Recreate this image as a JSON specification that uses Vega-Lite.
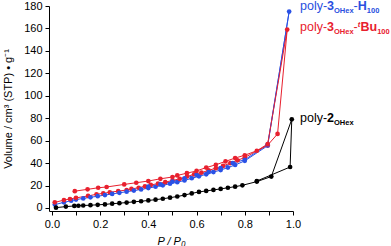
{
  "$schema": "https://vega.github.io/schema/vega-lite/v6.json",
  "width": 244,
  "height": 205,
  "autosize": {"type": "none"},
  "padding": {"left": 49, "top": 6, "right": 98, "bottom": 35},
  "background": "white",
  "config": {
    "view": {"stroke": null},
    "font": "Liberation Sans",
    "axis": {"grid": false, "domainColor": "#000", "tickColor": "#000", "labelColor": "#000", "titleColor": "#000", "labelFont": "Liberation Sans", "titleFont": "Liberation Sans", "labelFontSize": 11, "titleFontSize": 11, "titleFontWeight": "normal", "tickSize": 4, "domainWidth": 1, "tickWidth": 1, "labelOverlap": false, "labelBound": false}
  },
  "datasets": {
    "iso": [
      {"s": "H", "o": 1, "p": 0.012, "v": 3}, {"s": "H", "o": 2, "p": 0.05, "v": 5}, {"s": "H", "o": 3, "p": 0.08, "v": 6.5}, {"s": "H", "o": 4, "p": 0.1, "v": 7.5}, {"s": "H", "o": 5, "p": 0.13, "v": 8.5}, {"s": "H", "o": 6, "p": 0.16, "v": 9.5}, {"s": "H", "o": 7, "p": 0.19, "v": 10.5}, {"s": "H", "o": 8, "p": 0.22, "v": 11.5}, {"s": "H", "o": 9, "p": 0.25, "v": 12.5}, {"s": "H", "o": 10, "p": 0.28, "v": 13.5}, {"s": "H", "o": 11, "p": 0.31, "v": 14.5}, {"s": "H", "o": 12, "p": 0.34, "v": 15.5}, {"s": "H", "o": 13, "p": 0.37, "v": 16.5}, {"s": "H", "o": 14, "p": 0.4, "v": 17.7}, {"s": "H", "o": 15, "p": 0.43, "v": 18.9}, {"s": "H", "o": 16, "p": 0.46, "v": 20.2}, {"s": "H", "o": 17, "p": 0.49, "v": 21.6}, {"s": "H", "o": 18, "p": 0.52, "v": 23}, {"s": "H", "o": 19, "p": 0.55, "v": 24.5}, {"s": "H", "o": 20, "p": 0.58, "v": 26.5}, {"s": "H", "o": 21, "p": 0.61, "v": 28.2}, {"s": "H", "o": 22, "p": 0.64, "v": 30}, {"s": "H", "o": 23, "p": 0.67, "v": 32}, {"s": "H", "o": 24, "p": 0.7, "v": 33.8}, {"s": "H", "o": 25, "p": 0.73, "v": 36}, {"s": "H", "o": 26, "p": 0.76, "v": 38.3}, {"s": "H", "o": 27, "p": 0.8, "v": 42}, {"s": "H", "o": 28, "p": 0.895, "v": 55.5}, {"s": "H", "o": 29, "p": 0.984, "v": 175}, {"s": "H", "o": 30, "p": 0.895, "v": 56.5}, {"s": "H", "o": 31, "p": 0.8, "v": 43}, {"s": "H", "o": 32, "p": 0.75, "v": 40}, {"s": "H", "o": 33, "p": 0.7, "v": 35.5}, {"s": "H", "o": 34, "p": 0.65, "v": 32}, {"s": "H", "o": 35, "p": 0.6, "v": 29.5}, {"s": "H", "o": 36, "p": 0.55, "v": 26.5}, {"s": "H", "o": 37, "p": 0.5, "v": 23.5}, {"s": "H", "o": 38, "p": 0.45, "v": 21}, {"s": "H", "o": 39, "p": 0.4, "v": 19},
      {"s": "tBu", "o": 1, "p": 0.012, "v": 5}, {"s": "tBu", "o": 2, "p": 0.05, "v": 7}, {"s": "tBu", "o": 3, "p": 0.075, "v": 8}, {"s": "tBu", "o": 4, "p": 0.1, "v": 9}, {"s": "tBu", "o": 5, "p": 0.15, "v": 10.7}, {"s": "tBu", "o": 6, "p": 0.185, "v": 12.2}, {"s": "tBu", "o": 7, "p": 0.213, "v": 13}, {"s": "tBu", "o": 8, "p": 0.24, "v": 14}, {"s": "tBu", "o": 9, "p": 0.275, "v": 15}, {"s": "tBu", "o": 10, "p": 0.31, "v": 16}, {"s": "tBu", "o": 11, "p": 0.33, "v": 17}, {"s": "tBu", "o": 12, "p": 0.36, "v": 18}, {"s": "tBu", "o": 13, "p": 0.386, "v": 19.3}, {"s": "tBu", "o": 14, "p": 0.41, "v": 20.5}, {"s": "tBu", "o": 15, "p": 0.44, "v": 21.7}, {"s": "tBu", "o": 16, "p": 0.47, "v": 23}, {"s": "tBu", "o": 17, "p": 0.5, "v": 24.5}, {"s": "tBu", "o": 18, "p": 0.53, "v": 26}, {"s": "tBu", "o": 19, "p": 0.56, "v": 28}, {"s": "tBu", "o": 20, "p": 0.59, "v": 30}, {"s": "tBu", "o": 21, "p": 0.62, "v": 31.5}, {"s": "tBu", "o": 22, "p": 0.65, "v": 33.5}, {"s": "tBu", "o": 23, "p": 0.68, "v": 35.5}, {"s": "tBu", "o": 24, "p": 0.71, "v": 37.5}, {"s": "tBu", "o": 25, "p": 0.74, "v": 40}, {"s": "tBu", "o": 26, "p": 0.77, "v": 42.5}, {"s": "tBu", "o": 27, "p": 0.8, "v": 45}, {"s": "tBu", "o": 28, "p": 0.895, "v": 56}, {"s": "tBu", "o": 29, "p": 0.936, "v": 66}, {"s": "tBu", "o": 30, "p": 0.976, "v": 159}, {"s": "tBu", "o": 31, "p": 0.895, "v": 57}, {"s": "tBu", "o": 32, "p": 0.85, "v": 51}, {"s": "tBu", "o": 33, "p": 0.8, "v": 47}, {"s": "tBu", "o": 34, "p": 0.76, "v": 44.5}, {"s": "tBu", "o": 35, "p": 0.72, "v": 41.5}, {"s": "tBu", "o": 36, "p": 0.68, "v": 38.5}, {"s": "tBu", "o": 37, "p": 0.64, "v": 36}, {"s": "tBu", "o": 38, "p": 0.6, "v": 33}, {"s": "tBu", "o": 39, "p": 0.56, "v": 31}, {"s": "tBu", "o": 40, "p": 0.52, "v": 29}, {"s": "tBu", "o": 41, "p": 0.5, "v": 27.6}, {"s": "tBu", "o": 42, "p": 0.45, "v": 26}, {"s": "tBu", "o": 43, "p": 0.4, "v": 24}, {"s": "tBu", "o": 44, "p": 0.35, "v": 22.5}, {"s": "tBu", "o": 45, "p": 0.3, "v": 21}, {"s": "tBu", "o": 46, "p": 0.227, "v": 18.7}, {"s": "tBu", "o": 47, "p": 0.192, "v": 18}, {"s": "tBu", "o": 48, "p": 0.148, "v": 16.6}, {"s": "tBu", "o": 49, "p": 0.095, "v": 15},
      {"s": "two", "o": 1, "p": 0.017, "v": 0.3}, {"s": "two", "o": 2, "p": 0.058, "v": 1.2}, {"s": "two", "o": 3, "p": 0.093, "v": 1.8}, {"s": "two", "o": 4, "p": 0.11, "v": 2}, {"s": "two", "o": 5, "p": 0.13, "v": 2.2}, {"s": "two", "o": 6, "p": 0.16, "v": 2.5}, {"s": "two", "o": 7, "p": 0.19, "v": 2.8}, {"s": "two", "o": 8, "p": 0.22, "v": 3.2}, {"s": "two", "o": 9, "p": 0.25, "v": 3.8}, {"s": "two", "o": 10, "p": 0.28, "v": 4.3}, {"s": "two", "o": 11, "p": 0.31, "v": 4.8}, {"s": "two", "o": 12, "p": 0.34, "v": 5.5}, {"s": "two", "o": 13, "p": 0.37, "v": 6}, {"s": "two", "o": 14, "p": 0.4, "v": 6.7}, {"s": "two", "o": 15, "p": 0.43, "v": 7.4}, {"s": "two", "o": 16, "p": 0.46, "v": 8.2}, {"s": "two", "o": 17, "p": 0.49, "v": 9.2}, {"s": "two", "o": 18, "p": 0.52, "v": 10.2}, {"s": "two", "o": 19, "p": 0.55, "v": 11.5}, {"s": "two", "o": 20, "p": 0.58, "v": 13}, {"s": "two", "o": 21, "p": 0.61, "v": 14.3}, {"s": "two", "o": 22, "p": 0.64, "v": 15.2}, {"s": "two", "o": 23, "p": 0.67, "v": 16.1}, {"s": "two", "o": 24, "p": 0.7, "v": 17}, {"s": "two", "o": 25, "p": 0.73, "v": 18}, {"s": "two", "o": 26, "p": 0.76, "v": 19}, {"s": "two", "o": 27, "p": 0.79, "v": 20.2}, {"s": "two", "o": 28, "p": 0.85, "v": 23.5}, {"s": "two", "o": 29, "p": 0.91, "v": 28}, {"s": "two", "o": 30, "p": 0.995, "v": 79}, {"s": "two", "o": 31, "p": 0.988, "v": 36.5}, {"s": "two", "o": 32, "p": 0.85, "v": 24}
    ],
    "lab": [
      {"s": "H", "p": 1.029, "v": 176.5},
      {"s": "tBu", "p": 1.029, "v": 157.8},
      {"s": "two", "p": 1.029, "v": 76.6}
    ]
  },
  "encoding": {
    "x": {"field": "p", "type": "quantitative", "scale": {"domain": [-0.012, 1.0], "nice": false, "zero": false},
      "axis": {"values": [0, 0.1, 0.2, 0.3, 0.4, 0.5, 0.6, 0.7, 0.8, 0.9, 1.0], "labelExpr": "round(datum.value*10) % 2 == 0 ? format(datum.value, '.1f') : ''", "title": "P / P₀", "titleFontStyle": "italic", "labelPadding": 3, "titlePadding": 6, "labelFlush": false, "labelOverlap": false}},
    "y": {"field": "v", "type": "quantitative", "scale": {"domain": [-2.7, 180], "nice": false, "zero": false},
      "axis": {"values": [0, 20, 40, 60, 80, 100, 120, 140, 160, 180], "title": "Volume / cm³ (STP) • g⁻¹", "labelPadding": 3, "titlePadding": 10, "labelFlush": false, "labelOverlap": false, "labelBound": false}}
  },
  "layer": [
    {
      "data": {"name": "iso"},
      "mark": {"type": "line", "strokeWidth": 1, "point": {"filled": true, "size": 22}},
      "encoding": {
        "color": {"field": "s", "type": "nominal", "scale": {"domain": ["H", "tBu", "two"], "range": ["#2a52e6", "#e8202e", "#000000"]}, "legend": null},
        "detail": {"field": "s"},
        "order": {"field": "o", "type": "quantitative"}
      }
    },
    {"data": {"name": "lab"}, "transform": [{"filter": "datum.s == 'H'"}], "layer": [
      {"mark": {"type": "text", "text": "poly-", "align": "left", "baseline": "alphabetic", "fontSize": 12.5, "color": "#2a4fe0", "dx": 0}},
      {"mark": {"type": "text", "text": "3", "align": "left", "baseline": "alphabetic", "fontSize": 12.5, "fontWeight": "bold", "color": "#2a4fe0", "dx": 27.1}},
      {"mark": {"type": "text", "text": "OHex", "align": "left", "baseline": "alphabetic", "fontSize": 7.5, "fontWeight": "bold", "color": "#2a4fe0", "dx": 34, "dy": 3}},
      {"mark": {"type": "text", "text": "-", "align": "left", "baseline": "alphabetic", "fontSize": 12.5, "color": "#2a4fe0", "dx": 53.6}},
      {"mark": {"type": "text", "text": "H", "align": "left", "baseline": "alphabetic", "fontSize": 12.5, "fontWeight": "bold", "color": "#2a4fe0", "dx": 57.8}},
      {"mark": {"type": "text", "text": "100", "align": "left", "baseline": "alphabetic", "fontSize": 7.5, "fontWeight": "bold", "color": "#2a4fe0", "dx": 66.8, "dy": 3}}
    ]},
    {"data": {"name": "lab"}, "transform": [{"filter": "datum.s == 'tBu'"}], "layer": [
      {"mark": {"type": "text", "text": "poly-", "align": "left", "baseline": "alphabetic", "fontSize": 12.5, "color": "#e8202e", "dx": 0}},
      {"mark": {"type": "text", "text": "3", "align": "left", "baseline": "alphabetic", "fontSize": 12.5, "fontWeight": "bold", "color": "#e8202e", "dx": 27.1}},
      {"mark": {"type": "text", "text": "OHex", "align": "left", "baseline": "alphabetic", "fontSize": 7.5, "fontWeight": "bold", "color": "#e8202e", "dx": 34, "dy": 3}},
      {"mark": {"type": "text", "text": "-", "align": "left", "baseline": "alphabetic", "fontSize": 12.5, "color": "#e8202e", "dx": 53.6}},
      {"mark": {"type": "text", "text": "t", "align": "left", "baseline": "alphabetic", "fontSize": 7.5, "fontWeight": "bold", "fontStyle": "italic", "color": "#e8202e", "dx": 57.8, "dy": -4}},
      {"mark": {"type": "text", "text": "Bu", "align": "left", "baseline": "alphabetic", "fontSize": 12.5, "fontWeight": "bold", "color": "#e8202e", "dx": 60.5}},
      {"mark": {"type": "text", "text": "100", "align": "left", "baseline": "alphabetic", "fontSize": 7.5, "fontWeight": "bold", "color": "#e8202e", "dx": 77.2, "dy": 3}}
    ]},
    {"data": {"name": "lab"}, "transform": [{"filter": "datum.s == 'two'"}], "layer": [
      {"mark": {"type": "text", "text": "poly-", "align": "left", "baseline": "alphabetic", "fontSize": 12.5, "color": "#000000", "dx": 0}},
      {"mark": {"type": "text", "text": "2", "align": "left", "baseline": "alphabetic", "fontSize": 12.5, "fontWeight": "bold", "color": "#000000", "dx": 27.1}},
      {"mark": {"type": "text", "text": "OHex", "align": "left", "baseline": "alphabetic", "fontSize": 7.5, "fontWeight": "bold", "color": "#000000", "dx": 34, "dy": 3}}
    ]}
  ]
}
